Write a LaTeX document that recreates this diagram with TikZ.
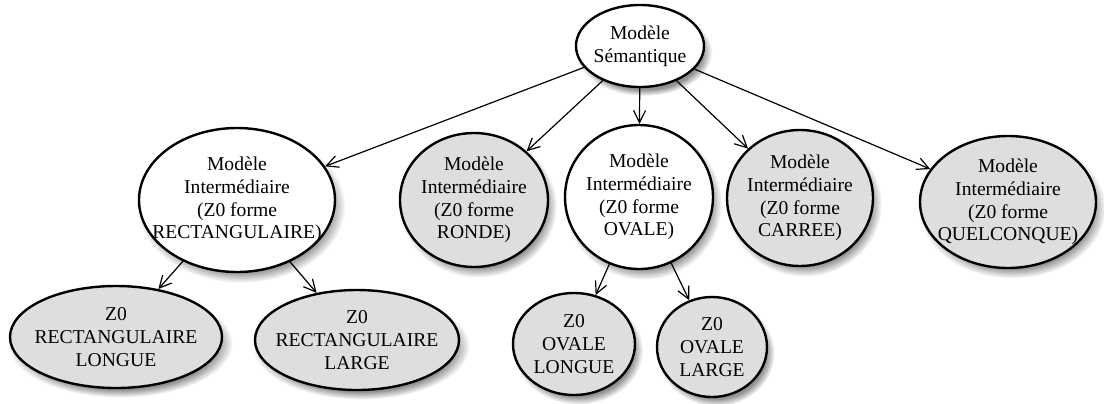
\documentclass[tikz,border=0pt]{standalone}
\usepackage{fontspec}
\setmainfont{Liberation Serif}
\usepackage{xcolor}
\usepackage{tikz}
\usetikzlibrary{shapes.geometric,shadows,arrows.meta}

\begin{document}
\begin{tikzpicture}[x=0.5pt,y=-0.5pt,font=\fontsize{9.8}{11.4}\selectfont,
  modele/.style={ellipse,draw,line width=1.2pt,fill=white,align=center,
    inner xsep=-8pt,inner ysep=0pt,
    circular drop shadow={shadow xshift=2pt,shadow yshift=-3pt,shadow scale=1.06,opacity=0.85}},
  zone/.style={modele,fill=black!13},
  fleche/.style={-{Straight Barb[length=6pt,width=6pt]},line width=0.6pt}]
  \useasboundingbox (0,0) rectangle (1104,403);
  \node[modele,minimum width=64pt,minimum height=41pt] (sem) at (640,46) {Modèle\\Sémantique};
  \node[modele,minimum width=98pt,minimum height=72pt] (rect) at (237,200) {Modèle\\Intermédiaire\\(Z0 forme\\RECTANGULAIRE)};
  \node[zone,minimum width=74pt,minimum height=67pt] (ronde) at (474,200) {Modèle\\Intermédiaire\\(Z0 forme\\RONDE)};
  \node[modele,minimum width=74pt,minimum height=72pt] (ovale) at (639,197) {Modèle\\Intermédiaire\\(Z0 forme\\OVALE)};
  \node[zone,minimum width=73pt,minimum height=68pt] (carree) at (800,198) {Modèle\\Intermédiaire\\(Z0 forme\\CARREE)};
  \node[zone,minimum width=88pt,minimum height=66pt] (quelc) at (1008,202) {Modèle\\Intermédiaire\\(Z0 forme\\QUELCONQUE)};
  \node[zone,minimum width=106pt,minimum height=51pt] (rectlong) at (116,337) {Z0\\RECTANGULAIRE\\LONGUE};
  \node[zone,minimum width=102pt,minimum height=50pt] (rectlarge) at (357,340) {Z0\\RECTANGULAIRE\\LARGE};
  \node[zone,minimum width=61pt,minimum height=51pt] (ovlong) at (574,344) {Z0\\OVALE\\LONGUE};
  \node[zone,minimum width=55pt,minimum height=50pt] (ovlarge) at (712,347) {Z0\\OVALE\\LARGE};
  \draw[fleche] (sem) -- (rect);
  \draw[fleche] (sem) -- (ronde);
  \draw[fleche] (sem) -- (ovale);
  \draw[fleche] (sem) -- (carree);
  \draw[fleche] (sem) -- (quelc);
  \draw[fleche] (rect) -- (rectlong);
  \draw[fleche] (rect) -- (rectlarge);
  \draw[fleche] (ovale) -- (ovlong);
  \draw[fleche] (ovale) -- (ovlarge);
\end{tikzpicture}
\end{document}
